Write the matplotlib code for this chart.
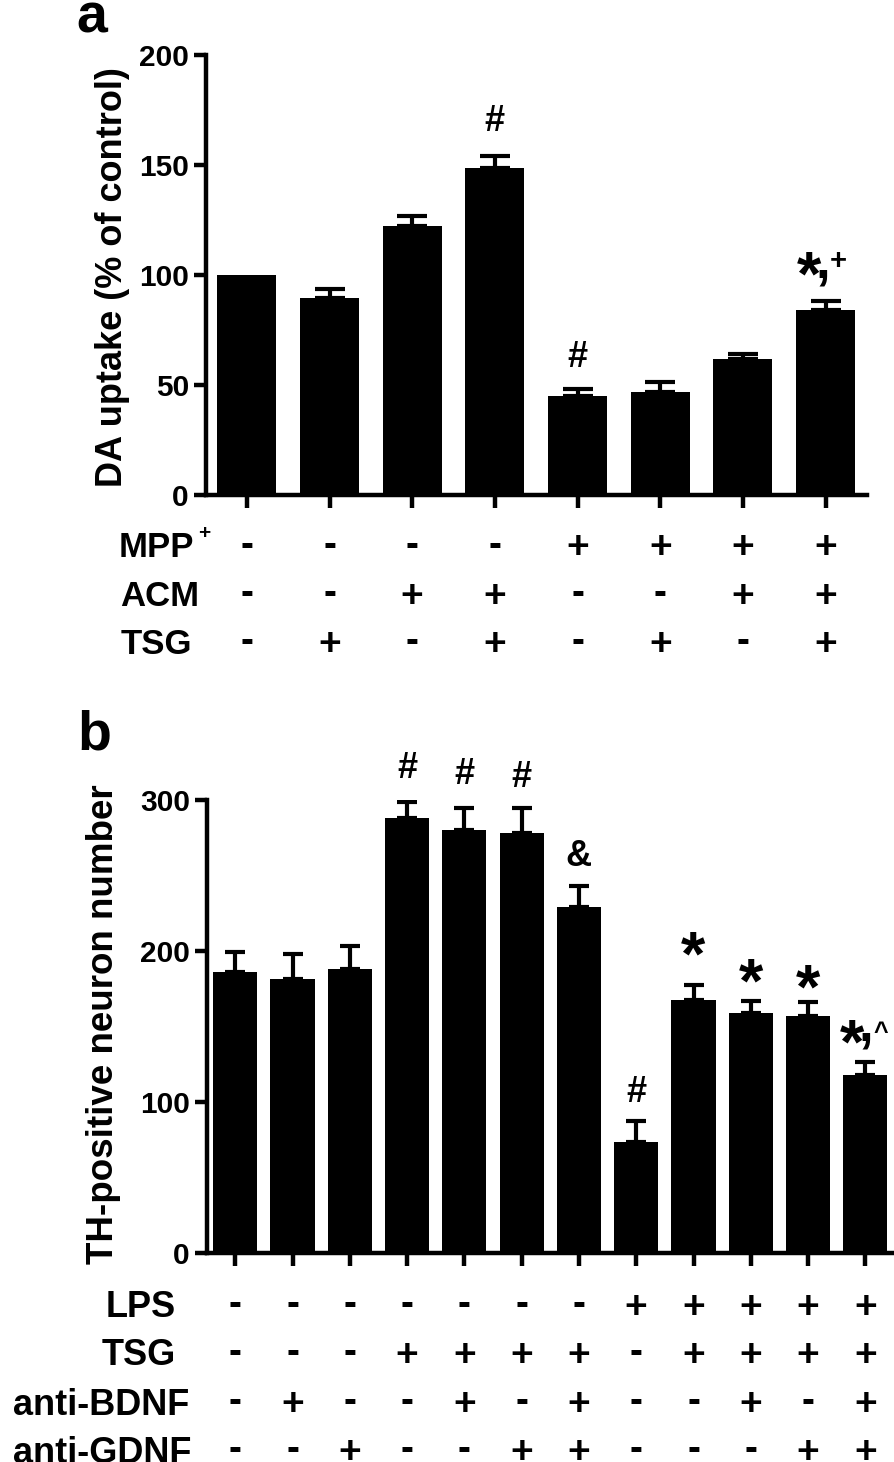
import numpy as np
import matplotlib
matplotlib.use('Agg')
import matplotlib.pyplot as plt
from matplotlib.textpath import TextPath
from matplotlib.font_manager import FontProperties

# panel a: DA uptake
a_vals = [100, 89.5, 122, 148.5, 45, 46.5, 61.5, 84]
a_err = [0, 4, 4.5, 5.5, 3, 4.5, 2.5, 4]
a_rows = ['MPP', 'ACM', 'TSG']
a_mpp = ['-', '-', '-', '-', '+', '+', '+', '+']
a_acm = ['-', '-', '+', '+', '-', '-', '+', '+']
a_tsg = ['-', '+', '-', '+', '-', '+', '-', '+']
a_ticks = [0, 50, 100, 150, 200]
# significance marks (bar index, symbol, height)
a_sig_idx = [3, 4]
a_sig_sym = ['#', '#']
a_sig_y = [170.7, 63.6]

# panel b: TH-positive neurons
b_vals = [186, 181, 188, 288, 280, 278, 229, 73, 167.5, 159, 157, 118]
b_err = [13, 17, 15, 11, 15, 17, 14, 14.5, 10, 8, 9, 8.5]
b_rows = ['LPS', 'TSG', 'anti-BDNF', 'anti-GDNF']
b_lps = ['-', '-', '-', '-', '-', '-', '-', '+', '+', '+', '+', '+']
b_tsg = ['-', '-', '-', '+', '+', '+', '+', '-', '+', '+', '+', '+']
b_bdnf = ['-', '+', '-', '-', '+', '-', '+', '-', '-', '+', '-', '+']
b_gdnf = ['-', '-', '+', '-', '-', '+', '+', '-', '-', '-', '+', '+']
b_ticks = [0, 100, 200, 300]
b_sig_idx = [3, 4, 5, 6, 7, 8, 9, 10]
b_sig_sym = ['#', '#', '#', '&', '#', '*', '*', '*']
b_sig_y = [322.8, 319, 317, 264.6, 108.2, 205.2, 187.3, 183]

plt.rcParams['font.family'] = ['Liberation Sans', 'DejaVu Sans']
plt.rcParams['font.weight'] = 'bold'

W, H = 894, 1462
fig = plt.figure(figsize=(W / 100, H / 100), dpi=100)
FONT = FontProperties(family='Liberation Sans', weight='bold')


def fy(py):
    return 1 - py / H


def ink_text(ax, x, y, s, size, coords, ha='center'):
    # place the ink centre of s at (x, y)
    ext = TextPath((0, 0), s, size=size, prop=FONT).get_extents()
    if ha == 'left':
        dx = -ext.x0
    elif ha == 'right':
        dx = -ext.x1
    else:
        dx = -(ext.x0 + ext.x1) / 2
    dy = -(ext.y0 + ext.y1) / 2
    ax.annotate(s, (x, y), xycoords=coords, xytext=(dx, dy),
                textcoords='offset points', ha='left', va='baseline',
                fontsize=size, fontweight='bold', annotation_clip=False)


def style(ax, ticks, n):
    for s in ['top', 'right']:
        ax.spines[s].set_visible(False)
    for s in ['left', 'bottom']:
        ax.spines[s].set_linewidth(3.2)
    ax.tick_params(width=3.2, length=9, labelsize=21.5, pad=3)
    ax.set_yticks(ticks)
    ax.set_ylim(0, ticks[-1])
    ax.set_xlim(-0.5, n - 0.5)
    ax.set_xticks(np.arange(n))
    ax.set_xticklabels([])


def bars(ax, vals, err, width, cap):
    x = np.arange(len(vals))
    vals = np.array(vals)
    err = np.array(err)
    ax.bar(x, vals, width=width, color='black', zorder=2)
    m = err > 0
    ax.errorbar(x[m], vals[m], yerr=[np.zeros(m.sum()), err[m]], fmt='none',
                ecolor='black', elinewidth=3, capsize=cap, capthick=3, zorder=3)


# ---- panel a ----
ax_a = fig.add_axes([205.5 / W, fy(494.5), 661.5 / W, 440 / H])
bars(ax_a, a_vals, a_err, 0.714, 11)
style(ax_a, a_ticks, len(a_vals))
for i, s, y in zip(a_sig_idx, a_sig_sym, a_sig_y):
    ink_text(ax_a, i, y, s, 26, 'data')
ink_text(ax_a, 7 - 0.2, 105.2, '*', 45, 'data')
ink_text(ax_a, 7 - 0.03, 98.6, ',', 38, 'data')
ink_text(ax_a, 7 + 0.15, 106.7, '+', 21, 'data')

fig.text(112.6 / W, fy(277.5), 'DA uptake (% of control)', rotation=90,
         ha='center', va='center', fontsize=26, fontweight='bold')
ink_text(ax_a, 92.5 / W, fy(18), 'a', 40, 'figure fraction')

a_row_y = [545.5, 594, 642]
for name, signs, ry in zip(a_rows, [a_mpp, a_acm, a_tsg], a_row_y):
    ink_text(ax_a, 121 / W, fy(ry), name, 25, 'figure fraction', ha='left')
    for i, s in enumerate(signs):
        ink_text(ax_a, i, fy(ry), s, 28, ('data', 'figure fraction'))
ink_text(ax_a, 204 / W, fy(532), '+', 15, 'figure fraction')

# ---- panel b ----
ax_b = fig.add_axes([206.6 / W, fy(1252.5), 687.4 / W, 452.5 / H])
bars(ax_b, b_vals, b_err, 0.77, 7.5)
style(ax_b, b_ticks, len(b_vals))
for i, s, y in zip(b_sig_idx, b_sig_sym, b_sig_y):
    ink_text(ax_b, i, y, s, 45 if s == '*' else 26, 'data')
ink_text(ax_b, 11 - 0.23, 146.6, '*', 45, 'data')
ink_text(ax_b, 11 + 0.01, 140.6, ',', 38, 'data')
ink_text(ax_b, 11 + 0.27, 148.9, '^', 18, 'data')

fig.text(103.6 / W, fy(1024), 'TH-positive neuron number', rotation=90,
         ha='center', va='center', fontsize=26.5, fontweight='bold')
ink_text(ax_b, 95 / W, fy(730), 'b', 40, 'figure fraction')

b_row_y = [1305, 1353, 1402, 1450]
b_row_right = [174, 174, 188, 190]
for name, signs, ry, rx in zip(b_rows, [b_lps, b_tsg, b_bdnf, b_gdnf], b_row_y, b_row_right):
    ink_text(ax_b, rx / W, fy(ry), name, 26, 'figure fraction', ha='right')
    for i, s in enumerate(signs):
        ink_text(ax_b, i, fy(ry), s, 28, ('data', 'figure fraction'))

fig.savefig('out.png', dpi=100)
